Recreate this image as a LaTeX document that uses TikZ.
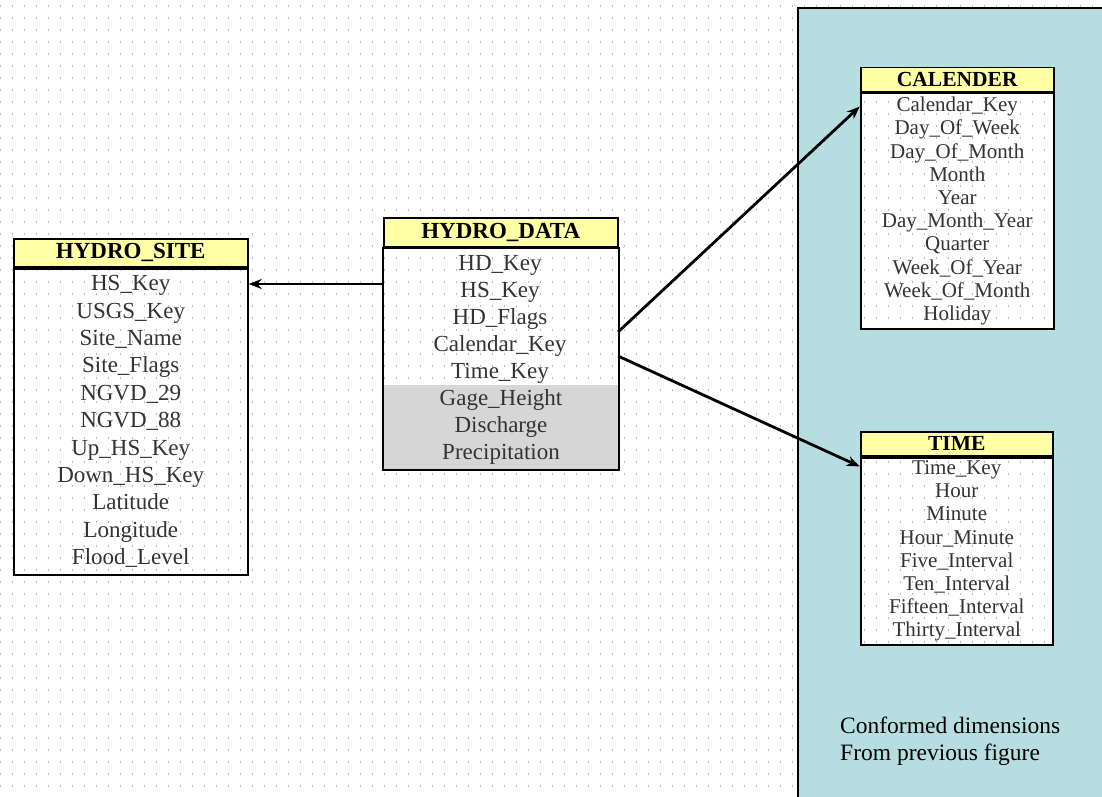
\documentclass[tikz,border=0pt]{standalone}
\usepackage{fontspec}
\setmainfont{Liberation Serif}
\usetikzlibrary{backgrounds, arrows.meta}
\definecolor{hdyellow}{RGB}{255,255,165}
\definecolor{dimteal}{RGB}{182,222,224}
\definecolor{factgray}{RGB}{214,214,214}
\definecolor{dotgray}{RGB}{185,185,185}
% light dotted paper, one row of dots every 12 units
\newcommand{\dotgrid}{%
  \foreach \gy in {6,18,...,798}
    \draw[dotgray, line width=1.2pt, dash pattern=on 1.2pt off 10.8pt] (0,\gy) -- (1102,\gy);}

\begin{document}
\begin{tikzpicture}[x=1pt, y=-1pt, >={Stealth[length=13pt,width=10pt]},
  head/.style={draw, line width=1.5pt, fill=hdyellow, inner sep=0pt, anchor=north west,
    font=\bfseries\fontsize{23}{27}\selectfont},
  rows/.style={line width=2pt, inner sep=0pt, anchor=north, align=center, text=black!80,
    font=\fontsize{23}{27.4}\selectfont},
  conn/.style={->, line width=2.8pt}]
  \useasboundingbox (0,0) rectangle (1102,797);

  % fact table and site dimension
  \node[head, minimum width=234, minimum height=28] (site head) at (13,238) {HYDRO\_SITE};
  \node[rows, draw, minimum width=234, minimum height=306] (site body) at (site head.south)
    {HS\_Key\\USGS\_Key\\Site\_Name\\Site\_Flags\\NGVD\_29\\NGVD\_88\\Up\_HS\_Key\\Down\_HS\_Key\\Latitude\\Longitude\\Flood\_Level};

  \node[head, minimum width=234, minimum height=29] (data head) at (383,217) {HYDRO\_DATA};
  \node[rows, minimum width=234, minimum height=138, font=\fontsize{23}{27}\selectfont] (data keys) at (500,249)
    {HD\_Key\\HS\_Key\\HD\_Flags\\Calendar\_Key\\Time\_Key};
  \node[rows, fill=factgray, minimum width=234, minimum height=84, anchor=north west, font=\fontsize{23}{27}\selectfont] (data facts) at (383,384)
    {Gage\_Height\\Discharge\\Precipitation};
  \draw[line width=2pt] (data head.south west) rectangle (data facts.south east);

  % conformed dimensions
  \node[head, minimum width=193, minimum height=24, font=\bfseries\fontsize{21.5}{25}\selectfont] (cal head) at (860,67) {CALENDER};
  \node[rows, draw, minimum width=193, minimum height=235, font=\fontsize{21}{23.2}\selectfont] (cal body) at (cal head.south)
    {Calendar\_Key\\Day\_Of\_Week\\Day\_Of\_Month\\Month\\Year\\Day\_Month\_Year\\Quarter\\Week\_Of\_Year\\Week\_Of\_Month\\Holiday};

  \node[head, minimum width=192, minimum height=24, font=\bfseries\fontsize{21.5}{25}\selectfont] (time head) at (860,431) {TIME};
  \node[rows, draw, minimum width=192, minimum height=187, font=\fontsize{21}{23.2}\selectfont] (time body) at (time head.south)
    {Time\_Key\\Hour\\Minute\\Hour\_Minute\\Five\_Interval\\Ten\_Interval\\Fifteen\_Interval\\Thirty\_Interval};

  \node[anchor=west, inner sep=0pt, align=left, font=\fontsize{23.5}{27}\selectfont] (note) at (840,741.5)
    {Conformed dimensions\\From previous figure};

  % links from the fact table
  \draw[conn] ([yshift=35pt]data keys.west) -- ([yshift=35pt]data keys.west -| site body.east);
  \draw[conn] ([yshift=-13pt]data keys.east) -- ([yshift=-14pt]cal body.north west);
  \draw[conn] ([yshift=-37pt]data keys.east) -- ([yshift=-10pt]time body.north west);

  \begin{pgfonlayer}{background}
    \fill[white] (0,0) rectangle (1102,797);
    \dotgrid
    \filldraw[fill=dimteal, draw=black, line width=1.5pt] (798,8) rectangle (1110,805);
    \fill[white] (cal body.north west) rectangle (cal body.south east);
    \fill[white] (time body.north west) rectangle (time body.south east);
    \begin{scope}
      \clip (cal body.north west) rectangle (cal body.south east)
            (time body.north west) rectangle (time body.south east);
      \dotgrid
    \end{scope}
  \end{pgfonlayer}
\end{tikzpicture}
\end{document}
